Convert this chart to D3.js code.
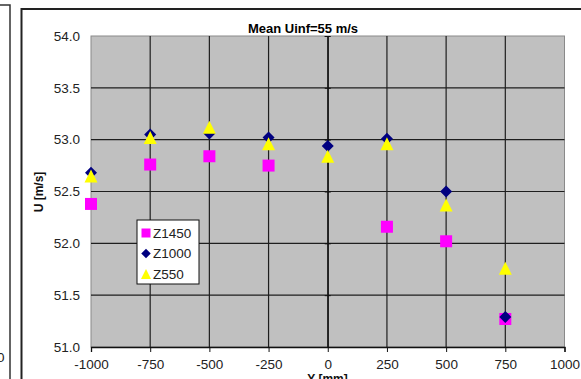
<!DOCTYPE html>
<html>
<head>
<meta charset="utf-8">
<script src="https://cdn.jsdelivr.net/npm/d3@7"></script>
<style>
  body { margin: 0; background: #fff; }
  text { font-family: "Liberation Sans", Arial, sans-serif; }
</style>
</head>
<body>
<div id="chart"><svg></svg></div>
<script>
// Y positions [mm]
const yPos = [-1000, -750, -500, -250, 0, 250, 500, 750];
// mean velocity U [m/s] for each station (null = no point)
const z1450 = [52.38, 52.76, 52.84, 52.75, null, 52.16, 52.02, 51.27];
const z1000 = [52.68, 53.05, 53.06, 53.02, 52.94, 53.01, 52.5, 51.29];
const z550 = [52.65, 53.02, 53.12, 52.96, 52.84, 52.96, 52.37, 51.76];

const xTicks = [-1000, -750, -500, -250, 0, 250, 500, 750, 1000];
const yTicks = [51.0, 51.5, 52.0, 52.5, 53.0, 53.5, 54.0];
const seriesNames = ["Z1450", "Z1000", "Z550"];

const W = 581, H = 379;
var margin = { top: 36, right: 16.5, bottom: 32, left: 91 };
var width = W - margin.left - margin.right;
var height = H - margin.top - margin.bottom;

var svg = d3.select("#chart > svg").attr("width", W).attr("height", H);

// custom excel-like markers
const triangle = {
  draw(ctx, size) {
    const r = Math.sqrt(size) / 2;
    ctx.moveTo(0, -r);
    ctx.lineTo(r, r);
    ctx.lineTo(-r, r);
    ctx.closePath();
  }
};
const diamond = {
  draw(ctx, size) {
    const r = Math.sqrt(size) / 2;
    ctx.moveTo(0, -r);
    ctx.lineTo(r, 0);
    ctx.lineTo(0, r);
    ctx.lineTo(-r, 0);
    ctx.closePath();
  }
};

const series = [
  { name: seriesNames[0], values: z1450, color: "#ff00ff", type: d3.symbolSquare, size: 144, legSize: 81 },
  { name: seriesNames[1], values: z1000, color: "#000080", type: diamond, size: 144, legSize: 90 },
  { name: seriesNames[2], values: z550, color: "#ffff00", type: triangle, size: 169, legSize: 100 }
];

// bits of the neighbouring panel + this chart's frame
svg.append("path")
  .attr("d", "M0,5H10V379")
  .attr("fill", "none").attr("stroke", "#333").attr("stroke-width", 1.5);
svg.append("text")
  .attr("x", 4.5).attr("y", 362)
  .attr("text-anchor", "end")
  .attr("font-size", 13.5).attr("fill", "#222")
  .text("1000");
svg.append("path")
  .attr("d", "M21.5,390V9H590")
  .attr("fill", "none").attr("stroke", "#222").attr("stroke-width", 2);

var x = d3.scaleLinear().domain([-1000, 1000]).range([0, width]);
var y = d3.scaleLinear().domain([51, 54]).range([height, 0]);

var g = svg.append("g").attr("transform", `translate(${margin.left}, ${margin.top})`);

g.append("rect")
  .attr("width", width).attr("height", height)
  .attr("fill", "#c0c0c0").attr("stroke", "#8a8a8a").attr("stroke-width", 1);

// grid
g.selectAll(".vgrid")
  .data(xTicks.slice(1, -1))
  .join("line")
  .attr("x1", d => x(d)).attr("x2", d => x(d))
  .attr("y1", 0).attr("y2", height)
  .attr("stroke", "#1e1e1e").attr("stroke-width", 1.2);

g.selectAll(".hgrid")
  .data(yTicks.slice(1, -1))
  .join("line")
  .attr("x1", 0).attr("x2", width)
  .attr("y1", d => y(d)).attr("y2", d => y(d))
  .attr("stroke", "#1e1e1e").attr("stroke-width", 1.2);

// x axis at bottom
var xAxis = g.append("g")
  .attr("transform", `translate(0, ${height})`)
  .call(d3.axisBottom(x).tickValues(xTicks).tickSize(5).tickPadding(7).tickFormat(d3.format("d")));
xAxis.select(".domain").attr("stroke", "#111").attr("stroke-width", 1.3);
xAxis.selectAll(".tick line").attr("stroke", "#111");
xAxis.selectAll("text")
  .attr("font-size", 13.5).attr("fill", "#222")
  .attr("font-family", "Liberation Sans, Arial, sans-serif")
  .text(d => d < 0 ? "-" + Math.abs(d) : d);

// y axis crosses at x = 0, labels sit on the left
var yAxis = g.append("g")
  .attr("transform", `translate(${x(0)}, 0)`)
  .call(d3.axisLeft(y).tickValues(yTicks).tickSize(3).tickFormat(() => ""));
yAxis.select(".domain").attr("stroke", "#111").attr("stroke-width", 1.2);
yAxis.selectAll(".tick line").attr("x2", 3).attr("x1", -3).attr("stroke", "#111");

g.selectAll(".ylab")
  .data(yTicks)
  .join("text")
  .attr("x", -11).attr("y", d => y(d))
  .attr("dy", "0.35em")
  .attr("text-anchor", "end")
  .attr("font-size", 13.5).attr("fill", "#222")
  .text(d => d3.format(".1f")(d));

// points
series.forEach(s => {
  g.append("g")
    .selectAll("path")
    .data(yPos.map((p, i) => ({ p, v: s.values[i] })).filter(d => d.v != null))
    .join("path")
    .attr("transform", d => `translate(${x(d.p)}, ${y(d.v)})`)
    .attr("d", d3.symbol().type(s.type).size(s.size))
    .attr("fill", s.color);
});

// titles
svg.append("text")
  .attr("x", 303).attr("y", 33)
  .attr("text-anchor", "middle")
  .attr("font-size", 13).attr("font-weight", "bold").attr("fill", "#000")
  .text("Mean Uinf=55 m/s");

svg.append("text")
  .attr("transform", "translate(43, 192) rotate(-90)")
  .attr("text-anchor", "middle")
  .attr("font-size", 12).attr("font-weight", "bold").attr("fill", "#111")
  .text("U [m/s]");

svg.append("text")
  .attr("x", 327.5).attr("y", 383)
  .attr("text-anchor", "middle")
  .attr("font-size", 12).attr("font-weight", "bold").attr("fill", "#111")
  .text("Y [mm]");

// legend
var leg = svg.append("g").attr("transform", "translate(137, 220)");
leg.append("rect")
  .attr("width", 62).attr("height", 64)
  .attr("fill", "#fff").attr("stroke", "#111").attr("stroke-width", 1);
series.forEach((s, i) => {
  const cy = 13 + i * 20.5;
  leg.append("path")
    .attr("transform", `translate(9, ${cy})`)
    .attr("d", d3.symbol().type(s.type).size(s.legSize))
    .attr("fill", s.color);
  leg.append("text")
    .attr("x", 16).attr("y", cy).attr("dy", "0.36em")
    .attr("font-size", 13.5).attr("fill", "#222")
    .text(s.name);
});
</script>
</body>
</html>
